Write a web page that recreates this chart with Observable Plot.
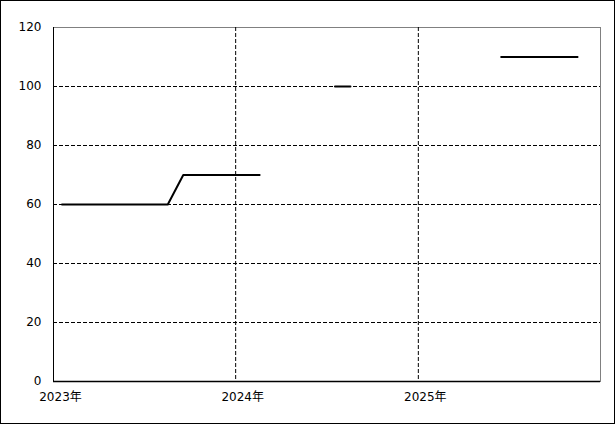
<!DOCTYPE html>
<html>
<head>
<meta charset="utf-8">
<script src="https://cdn.jsdelivr.net/npm/d3@7"></script>
<script src="https://cdn.jsdelivr.net/npm/@observablehq/plot@0.6"></script>
<style>
  html, body { margin: 0; padding: 0; background: #fff; }
  #wrap { width: 613px; height: 422px; border: 1px solid #000; }
  svg { display: block; }
</style>
</head>
<body>
<div id="wrap"></div>
<script>
const dates = [
  "2023-01-18","2023-02-18","2023-03-18","2023-04-18","2023-05-18","2023-06-18",
  "2023-07-18","2023-08-18","2023-09-18","2023-10-18","2023-11-18","2023-12-18",
  "2024-01-18","2024-02-18","2024-03-18","2024-04-18","2024-05-18","2024-06-18",
  "2024-07-18","2024-08-18","2024-09-18","2024-10-18","2024-11-18","2024-12-18",
  "2025-01-18","2025-02-18","2025-03-18","2025-04-18","2025-05-18","2025-06-16",
  "2025-07-16","2025-08-16","2025-09-16","2025-10-16","2025-11-16"
];
const values = [
  60, 60, 60, 60, 60, 60,
  60, 60, 70, 70, 70, 70,
  70, 70, null, null, null, null,
  100, 100, null, null, null, null,
  null, null, null, null, null, 110,
  110, 110, 110, 110, 110
];
const yTicks = [0, 20, 40, 60, 80, 100, 120];
const xTicks = ["2023-01-01", "2024-01-01", "2025-01-01"];
const xDomain = ["2023-01-01", "2026-01-01"];

const data = dates.map((d, i) => ({date: new Date(d), value: values[i]}));
const xt = xTicks.map(d => new Date(d));
const font = "'DejaVu Sans', 'Noto Sans CJK JP', sans-serif";

const chart = Plot.plot({
  width: 613,
  height: 422,
  marginLeft: 52,
  marginRight: 14,
  marginTop: 26,
  marginBottom: 42,
  style: {fontFamily: font, fontSize: "12px", color: "#000", background: "#fff"},
  x: {type: "utc", domain: xDomain.map(d => new Date(d))},
  y: {domain: [0, 120]},
  marks: [
    Plot.frame({stroke: "#808080", strokeWidth: 1}),
    Plot.ruleY(yTicks.filter(v => v > 0 && v < 120), {stroke: "#000", strokeDasharray: "4,2", strokeWidth: 1}),
    Plot.ruleX(xt.slice(1), {stroke: "#000", strokeDasharray: "4,2", strokeWidth: 1}),
    Plot.ruleX([xt[0]], {stroke: "#000", strokeWidth: 1}),
    Plot.ruleY([0], {stroke: "#000", strokeWidth: 1.5}),
    Plot.axisY({ticks: yTicks, tickSize: 0, tickPadding: 12, label: null, fill: "#000", fontSize: 12}),
    Plot.axisX({ticks: xt, tickSize: 0, tickPadding: 11, label: null, dx: 7, fill: "#000", fontSize: 12,
      tickFormat: d => d.getUTCFullYear() + "年"}),
    Plot.line(data, {x: "date", y: "value", stroke: "#000", strokeWidth: 2, curve: "linear"})
  ]
});
document.getElementById("wrap").appendChild(chart);
</script>
</body>
</html>
